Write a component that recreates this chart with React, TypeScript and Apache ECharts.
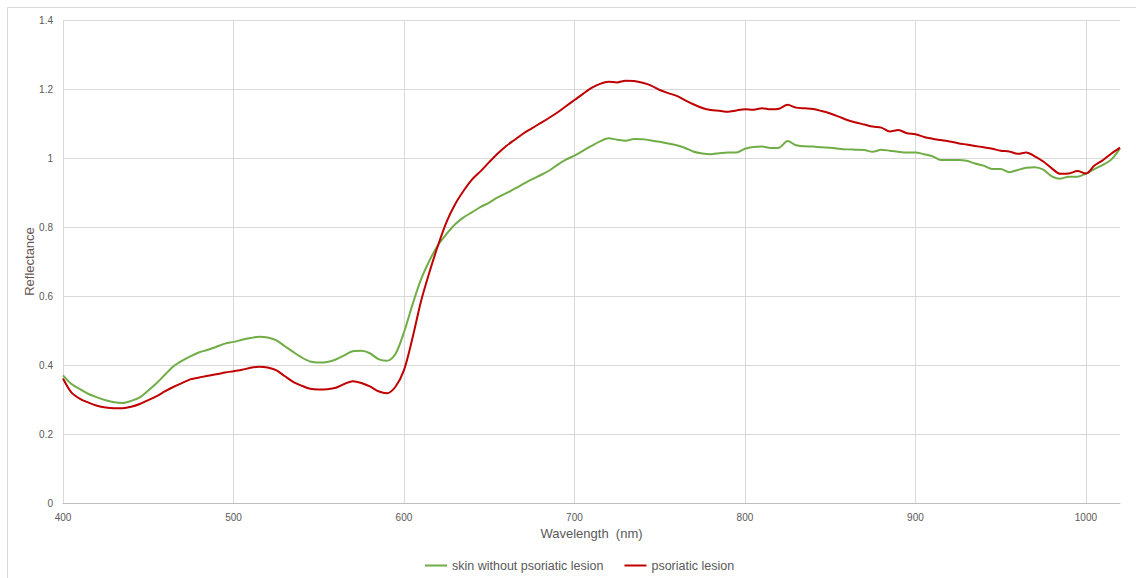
import React, { useEffect, useRef } from "react";
import * as echarts from "echarts";

const wavelengths: number[] = [];
for (let w = 400; w <= 1020; w += 5) wavelengths.push(w);

const skinValues = [
  0.370, 0.345, 0.330, 0.316, 0.306, 0.298, 0.292, 0.290, 0.296, 0.306,
  0.326, 0.348, 0.373, 0.397, 0.413, 0.426, 0.437, 0.444, 0.453, 0.462,
  0.467, 0.473, 0.478, 0.482, 0.480, 0.472, 0.455, 0.438, 0.422, 0.410,
  0.407, 0.409, 0.416, 0.428, 0.440, 0.441, 0.434, 0.417, 0.412, 0.432,
  0.495, 0.575, 0.648, 0.703, 0.748, 0.780, 0.808, 0.828, 0.843, 0.858,
  0.871, 0.886, 0.898, 0.911, 0.925, 0.938, 0.950, 0.963, 0.980, 0.995,
  1.007, 1.021, 1.035, 1.048, 1.057, 1.053, 1.050, 1.055, 1.054, 1.051,
  1.047, 1.042, 1.037, 1.029, 1.018, 1.013, 1.011, 1.014, 1.016, 1.016,
  1.027, 1.032, 1.033, 1.029, 1.030, 1.049, 1.037, 1.034, 1.033, 1.031,
  1.030, 1.027, 1.025, 1.024, 1.023, 1.018, 1.024, 1.021, 1.018, 1.016,
  1.016, 1.011, 1.005, 0.994, 0.994, 0.994, 0.992, 0.984, 0.978, 0.968,
  0.968, 0.959, 0.965, 0.972, 0.973, 0.966, 0.947, 0.940, 0.946, 0.946,
  0.955, 0.968, 0.980, 0.996, 1.028,
];

const lesionValues = [
  0.361, 0.320, 0.302, 0.291, 0.282, 0.277, 0.275, 0.275, 0.279, 0.287,
  0.298, 0.310, 0.324, 0.337, 0.348, 0.359, 0.364, 0.369, 0.373, 0.378,
  0.382, 0.386, 0.392, 0.395, 0.393, 0.385, 0.368, 0.351, 0.340, 0.331,
  0.329, 0.330, 0.334, 0.345, 0.353, 0.348, 0.338, 0.324, 0.318, 0.337,
  0.385, 0.478, 0.585, 0.670, 0.747, 0.815, 0.866, 0.905, 0.938, 0.962,
  0.988, 1.013, 1.035, 1.053, 1.071, 1.086, 1.101, 1.116, 1.132, 1.150,
  1.168, 1.186, 1.203, 1.215, 1.221, 1.219, 1.224, 1.223, 1.218, 1.210,
  1.197, 1.188, 1.180, 1.167, 1.155, 1.145, 1.139, 1.137, 1.134, 1.138,
  1.141, 1.140, 1.144, 1.141, 1.143, 1.154, 1.146, 1.144, 1.142, 1.136,
  1.129, 1.120, 1.110, 1.103, 1.097, 1.091, 1.088, 1.077, 1.081, 1.072,
  1.069, 1.061, 1.056, 1.052, 1.048, 1.043, 1.039, 1.035, 1.031, 1.027,
  1.021, 1.019, 1.012, 1.016, 1.005, 0.990, 0.970, 0.954, 0.955, 0.962,
  0.955, 0.978, 0.994, 1.013, 1.030,
];

const seriesNames = ["skin without psoriatic lesion", "psoriatic lesion"];

export default function App() {
  const ref = useRef<HTMLDivElement>(null);
  useEffect(() => {
    if (!ref.current) return;
    const chart = echarts.init(ref.current, null, { renderer: "svg" });
    const font = "'Liberation Sans', Arial, sans-serif";
    const grid = "#d9d9d9";
    chart.setOption({
      animation: false,
      textStyle: { fontFamily: font },
      graphic: [
        {
          type: "rect",
          shape: { x: 7.5, y: 7.5, width: 1300, height: 800 },
          style: { fill: "none", stroke: "#d9d9d9", lineWidth: 1 },
          silent: true,
        },
      ],
      grid: { left: 63, top: 20, right: 16, bottom: 75 },
      legend: {
        bottom: 1,
        left: 420,
        itemWidth: 22,
        itemHeight: 2,
        itemGap: 21,
        icon: "rect",
        textStyle: { color: "#595959", fontSize: 12.5, fontFamily: font },
        data: seriesNames,
      },
      xAxis: {
        type: "value",
        min: 400,
        max: 1020,
        interval: 100,
        name: "Wavelength  (nm)",
        nameLocation: "middle",
        nameGap: 24,
        nameTextStyle: { color: "#595959", fontSize: 13 },
        axisLine: { show: true, lineStyle: { color: "#bfbfbf" } },
        axisTick: { show: false },
        axisLabel: {
          color: "#595959",
          fontSize: 10,
          margin: 9,
          showMaxLabel: false,
          formatter: (v: number) => String(v),
        },
        splitLine: {
          show: true,
          lineStyle: {
            color: [grid, grid, grid, grid, grid, grid, grid, "rgba(0,0,0,0)"],
            width: 1,
          },
        },
      },
      yAxis: {
        type: "value",
        min: 0,
        max: 1.4,
        interval: 0.2,
        name: "Reflectance",
        nameLocation: "middle",
        nameGap: 27,
        nameMoveOverlap: false,
        nameTextStyle: { color: "#6a5555", fontSize: 13 },
        axisLine: { show: false },
        axisTick: { show: false },
        axisLabel: { color: "#595959", fontSize: 10, margin: 10 },
        splitLine: { show: true, lineStyle: { color: grid, width: 1 } },
      },
      series: [
        {
          name: seriesNames[0],
          type: "line",
          symbol: "none",
          smooth: 0.3,
          data: wavelengths.map((w, i) => [w, skinValues[i]]),
          lineStyle: { color: "#70AD47", width: 2 },
          itemStyle: { color: "#70AD47" },
        },
        {
          name: seriesNames[1],
          type: "line",
          symbol: "none",
          smooth: 0.3,
          data: wavelengths.map((w, i) => [w, lesionValues[i]]),
          lineStyle: { color: "#C00000", width: 2 },
          itemStyle: { color: "#C00000" },
        },
      ],
    });
    return () => chart.dispose();
  }, []);
  return (
    <div
      ref={ref}
      style={{ position: "fixed", left: 0, top: 0, width: 1136, height: 578, background: "#fff" }}
    />
  );
}
